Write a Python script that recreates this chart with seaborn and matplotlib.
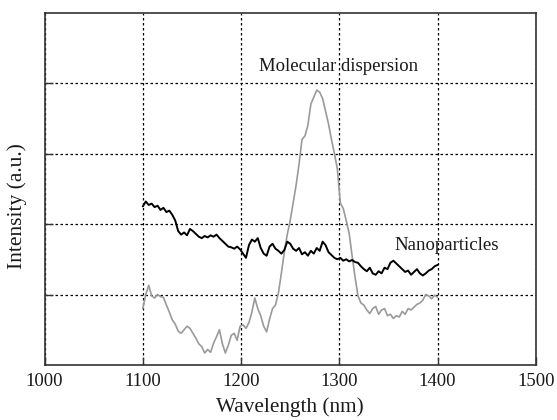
import numpy as np
import pandas as pd
import matplotlib
matplotlib.use("Agg")
import matplotlib.pyplot as plt
import seaborn as sns

wavelength = np.arange(1100, 1401, 3)

nanoparticles = [
    2.25, 2.32, 2.27, 2.29, 2.24, 2.26, 2.20, 2.23, 2.17, 2.19,
    2.13, 2.05, 1.90, 1.85, 1.88, 1.84, 1.93, 1.90, 1.86, 1.82,
    1.80, 1.83, 1.81, 1.84, 1.82, 1.85, 1.80, 1.76, 1.72, 1.68,
    1.67, 1.65, 1.68, 1.64, 1.58, 1.52, 1.70, 1.78, 1.75, 1.80,
    1.66, 1.58, 1.55, 1.68, 1.72, 1.65, 1.62, 1.58, 1.63, 1.75,
    1.72, 1.65, 1.62, 1.66, 1.57, 1.60, 1.55, 1.62, 1.58, 1.66,
    1.62, 1.75, 1.70, 1.60, 1.56, 1.52, 1.50, 1.52, 1.48, 1.50,
    1.47, 1.49, 1.46, 1.45, 1.40, 1.36, 1.33, 1.38, 1.30, 1.28,
    1.33, 1.30, 1.38, 1.36, 1.45, 1.48, 1.44, 1.40, 1.36, 1.32,
    1.34, 1.28, 1.32, 1.36, 1.30, 1.27, 1.30, 1.34, 1.36, 1.40,
    1.42,
]

molecular = [
    0.80, 1.00, 1.13, 0.98, 0.95, 1.00, 0.97, 0.96, 0.85, 0.75,
    0.64, 0.58, 0.48, 0.45, 0.50, 0.55, 0.52, 0.45, 0.38, 0.30,
    0.26, 0.17, 0.22, 0.18, 0.31, 0.40, 0.50, 0.30, 0.17, 0.28,
    0.42, 0.45, 0.35, 0.55, 0.57, 0.52, 0.60, 0.75, 0.95, 0.80,
    0.70, 0.55, 0.47, 0.65, 0.80, 0.85, 1.02, 1.30, 1.60, 1.85,
    2.05, 2.30, 2.55, 2.85, 3.20, 3.25, 3.40, 3.70, 3.80, 3.90,
    3.87, 3.78, 3.60, 3.42, 3.20, 3.00, 2.78, 2.30, 2.22, 2.05,
    1.87, 1.55, 1.25, 0.98, 0.88, 0.85, 0.78, 0.73, 0.80, 0.83,
    0.72, 0.78, 0.80, 0.70, 0.72, 0.66, 0.70, 0.68, 0.76, 0.72,
    0.80, 0.78, 0.82, 0.86, 0.88, 0.92, 1.00, 0.98, 0.94, 0.99,
    0.96,
]

x_ticks = [1000, 1100, 1200, 1300, 1400, 1500]
y_grid = [1, 2, 3, 4]

sns.set_style("ticks")
plt.rcParams['font.family'] = ['Liberation Serif', 'DejaVu Serif']

df_n = pd.DataFrame({"wl": wavelength, "val": nanoparticles})
df_m = pd.DataFrame({"wl": wavelength, "val": molecular})

fig = plt.figure(figsize=(5.57, 4.2), dpi=100)
ax = fig.add_axes([0.080, 0.131, 0.882, 0.839])

sns.lineplot(data=df_m, x="wl", y="val", ax=ax, color="#9a9a9a", linewidth=1.2)
sns.lineplot(data=df_n, x="wl", y="val", ax=ax, color="black", linewidth=1.4)

ax.set_xlim(1000, 1500)
ax.set_ylim(0, 5)
ax.set_xticks(x_ticks)
ax.set_xticklabels([str(t) for t in x_ticks], fontsize=13.5)
ax.set_yticks(y_grid)
ax.set_yticklabels([])
ax.tick_params(direction="in", length=6, width=1, pad=6, colors="#333333", labelcolor="#1a1a1a")
ax.grid(True, linestyle=(0, (2, 2)), color="black", linewidth=0.9)
for s in ax.spines.values():
    s.set_visible(True)
    s.set_linewidth(1.2)
    s.set_color("#333333")

ax.set_xlabel("Wavelength (nm)", fontsize=15.3, labelpad=5, color="#1a1a1a")
ax.set_ylabel("Intensity (a.u.)", fontsize=15.5, color="#1a1a1a")
ax.yaxis.set_label_coords(-0.036, 0.45)

ax.text(1299, 4.23, "Molecular dispersion", fontsize=13.5, ha="center", va="center", color="#1a1a1a")
ax.text(1356, 1.70, "Nanoparticles", fontsize=13.5, ha="left", va="center", color="#1a1a1a")

fig.savefig("out.png", dpi=100)
